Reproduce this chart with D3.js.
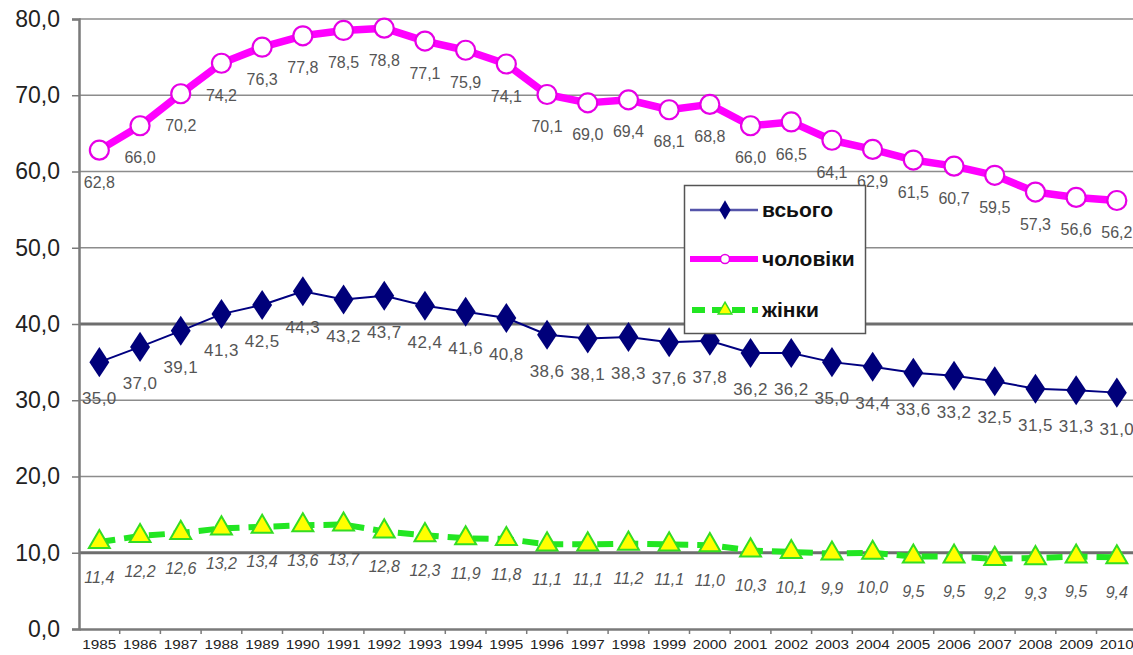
<!DOCTYPE html>
<html><head><meta charset="utf-8">
<script src="https://cdn.jsdelivr.net/npm/d3@7/dist/d3.min.js"></script>
<style>body{margin:0;background:#fff}svg{display:block}</style>
</head><body><svg id="c" width="1133" height="655"></svg>
<script>
const years = ["1985","1986","1987","1988","1989","1990","1991","1992","1993","1994","1995","1996","1997","1998","1999","2000","2001","2002","2003","2004","2005","2006","2007","2008","2009","2010"];
const total = [35.0,37.0,39.1,41.3,42.5,44.3,43.2,43.7,42.4,41.6,40.8,38.6,38.1,38.3,37.6,37.8,36.2,36.2,35.0,34.4,33.6,33.2,32.5,31.5,31.3,31.0];
const men = [62.8,66.0,70.2,74.2,76.3,77.8,78.5,78.8,77.1,75.9,74.1,70.1,69.0,69.4,68.1,68.8,66.0,66.5,64.1,62.9,61.5,60.7,59.5,57.3,56.6,56.2];
const women = [11.4,12.2,12.6,13.2,13.4,13.6,13.7,12.8,12.3,11.9,11.8,11.1,11.1,11.2,11.1,11.0,10.3,10.1,9.9,10.0,9.5,9.5,9.2,9.3,9.5,9.4];
const yTicks = [0,10,20,30,40,50,60,70,80];
const seriesNames = ["всього","чоловіки","жінки"];

const fmt = v => v.toFixed(1).replace(".", ",");
const svg = d3.select("#c");
const left = 79, step = 40.7;
const x = d3.scaleBand().domain(years).range([left, left + step*years.length]).padding(0);
const y = d3.scaleLinear().domain([0,80]).range([629,19]);
const cx = d => x(d) + x.bandwidth()/2;

// gridlines
svg.append("g").selectAll("line").data(yTicks.filter(t=>t>0)).join("line")
  .attr("x1", left).attr("x2", 1133).attr("y1", d=>y(d)).attr("y2", d=>y(d))
  .attr("stroke", d => (d===40||d===10) ? "#6e6e6e" : "#8c8c8c")
  .attr("stroke-width", d => (d===40||d===10) ? 3 : 1.5);

// y axis
const ya = svg.append("g").attr("transform", `translate(${left},0)`)
  .call(d3.axisLeft(y).tickValues(yTicks).tickFormat(fmt).tickSize(7).tickPadding(12));
ya.select(".domain").attr("stroke","#7a7a7a").attr("stroke-width",2.5);
ya.selectAll(".tick line").attr("stroke","#7a7a7a").attr("stroke-width",1.5);
ya.selectAll("text").attr("font-family","Arial, 'Liberation Sans', sans-serif").attr("font-size",23).attr("fill","#222");

// x axis
const xa = svg.append("g").attr("transform", `translate(0,${y(0)})`)
  .call(d3.axisBottom(x).tickSize(0).tickPadding(11));
xa.select(".domain").attr("stroke","#7a7a7a").attr("stroke-width",2.5);
xa.selectAll("text").attr("font-family","Arial, 'Liberation Sans', sans-serif").attr("font-size",12)
  .attr("fill","#222").attr("textLength",34).attr("lengthAdjust","spacingAndGlyphs");
xa.selectAll(".bt").data(years).join("line").attr("class","bt")
  .attr("x1", d=>x(d)+step).attr("x2", d=>x(d)+step).attr("y1",0).attr("y2",5)
  .attr("stroke","#7a7a7a").attr("stroke-width",1.5);

const line = d3.line().x((d,i)=>cx(years[i])).y(d=>y(d));
const tri = d3.symbol().type(d3.symbolTriangle).size(190);

// women
svg.append("path").datum(women).attr("d", line).attr("fill","none")
  .attr("stroke","#22e622").attr("stroke-width",6).attr("stroke-dasharray","16,9");
svg.append("g").selectAll("path").data(women).join("path")
  .attr("d", tri).attr("transform",(d,i)=>`translate(${cx(years[i])},${y(d)})`)
  .attr("fill","#ffff00").attr("stroke","#33dd22").attr("stroke-width",2);
svg.append("g").selectAll("text").data(women).join("text")
  .attr("x",(d,i)=>cx(years[i])).attr("y", d=>y(d)+35).attr("dy","0.35em")
  .attr("text-anchor","middle").attr("font-family","Arial, 'Liberation Sans', sans-serif")
  .attr("font-style","italic").attr("font-size",16).attr("fill","#555").text(fmt);

// total
svg.append("path").datum(total).attr("d", line).attr("fill","none")
  .attr("stroke","#000080").attr("stroke-width",2);
const dia = d3.symbol().type(d3.symbolDiamond).size(260);
svg.append("g").selectAll("path").data(total).join("path")
  .attr("d", dia).attr("transform",(d,i)=>`translate(${cx(years[i])},${y(d)}) scale(1.15,1)`)
  .attr("fill","#00007a");
svg.append("g").selectAll("text").data(total).join("text")
  .attr("x",(d,i)=>cx(years[i])).attr("y", d=>y(d)+36).attr("dy","0.35em")
  .attr("text-anchor","middle").attr("font-family","Arial, 'Liberation Sans', sans-serif")
  .attr("font-size",17).attr("letter-spacing",0.4).attr("fill","#555").text(fmt);

// men
svg.append("path").datum(men).attr("d", line).attr("fill","none")
  .attr("stroke","#ff00ff").attr("stroke-width",7.5).attr("stroke-linejoin","round");
svg.append("g").selectAll("circle").data(men).join("circle")
  .attr("cx",(d,i)=>cx(years[i])).attr("cy", d=>y(d)).attr("r",9.5)
  .attr("fill","#fff").attr("stroke","#e600e6").attr("stroke-width",2.2);
svg.append("g").selectAll("text").data(men).join("text")
  .attr("x",(d,i)=>cx(years[i])).attr("y", d=>y(d)+32).attr("dy","0.35em")
  .attr("text-anchor","middle").attr("font-family","Arial, 'Liberation Sans', sans-serif")
  .attr("font-size",16).attr("fill","#555").text(fmt);

// legend
const lg = svg.append("g");
lg.append("rect").attr("x",684.5).attr("y",185.5).attr("width",181).attr("height",148)
  .attr("fill","#fff").attr("stroke","#555").attr("stroke-width",1.5);
const ly = [210, 259, 310];
// total sample
lg.append("line").attr("x1",690).attr("x2",758).attr("y1",ly[0]).attr("y2",ly[0]).attr("stroke","#5555aa").attr("stroke-width",2.5);
lg.append("path").attr("d", d3.symbol().type(d3.symbolDiamond).size(110)).attr("transform",`translate(725,${ly[0]})`).attr("fill","#00007a");
// men sample
lg.append("line").attr("x1",690).attr("x2",758).attr("y1",ly[1]).attr("y2",ly[1]).attr("stroke","#ff00ff").attr("stroke-width",6);
lg.append("circle").attr("cx",725).attr("cy",ly[1]).attr("r",4.5).attr("fill","#fff").attr("stroke","#e600e6").attr("stroke-width",1.5);
// women sample
lg.append("line").attr("x1",692).attr("x2",758).attr("y1",ly[2]).attr("y2",ly[2]).attr("stroke","#22e622").attr("stroke-width",6).attr("stroke-dasharray","13,7");
lg.append("path").attr("d", d3.symbol().type(d3.symbolTriangle).size(80)).attr("transform",`translate(725,${ly[2]})`).attr("fill","#ffff00").attr("stroke","#33dd22").attr("stroke-width",1.5);
lg.selectAll("text.l").data(seriesNames).join("text").attr("class","l")
  .attr("x",762).attr("y",(d,i)=>ly[i]).attr("dy","0.35em")
  .attr("font-family","Arial, 'Liberation Sans', sans-serif").attr("font-weight","bold")
  .attr("font-size",21).attr("fill","#111").text(d=>d);
</script></body></html>
